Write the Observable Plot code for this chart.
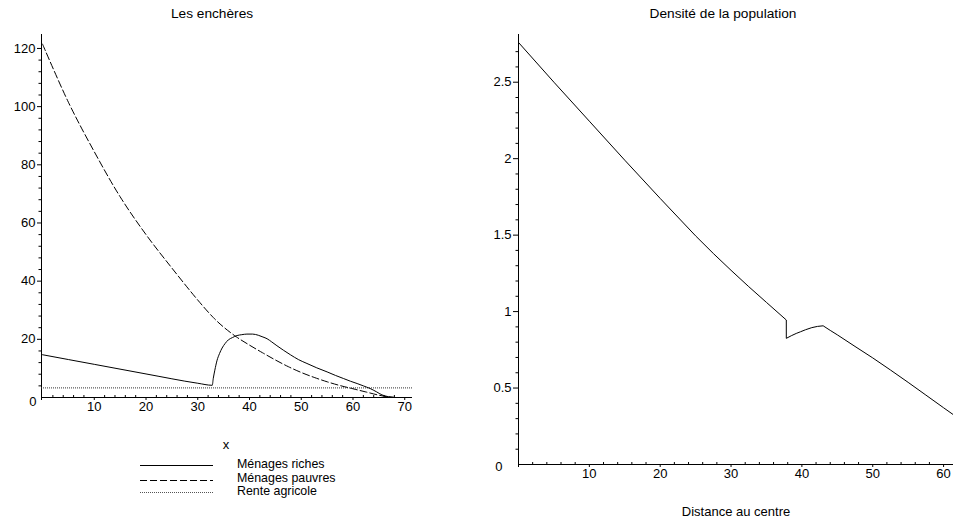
<!DOCTYPE html>
<html>
<head>
<meta charset="utf-8">
<script src="https://cdn.jsdelivr.net/npm/d3@7"></script>
<script src="https://cdn.jsdelivr.net/npm/@observablehq/plot@0.6"></script>
<style>
  html, body { margin: 0; padding: 0; background: #fff; }
  #wrap { position: relative; width: 953px; height: 523px; overflow: hidden; background: #fff;
          font-family: "Liberation Sans", Arial, sans-serif; color: #000; }
  .t { position: absolute; font-size: 13px; line-height: 15px; white-space: nowrap; }
  .ttl { font-size: 13.7px; }
  .c { transform: translateX(-50%); }
  #p1, #p2 { position: absolute; top: 0; }
  #p1 { left: 0; }
  #p2 { left: 470px; }
  #legend { position: absolute; left: 140px; top: 458px; }
  #legend .row { position: relative; height: 13.6px; width: 220px; }
  #legend svg { position: absolute; left: 0; top: 0; }
  #legend span { position: absolute; left: 97px; top: 0px; font-size: 12.4px; line-height: 13px; white-space: nowrap; }
</style>
</head>
<body>
<div id="wrap">
  <div class="t c ttl" style="left:212px;top:6px;">Les enchères</div>
  <div class="t c ttl" style="left:723px;top:6px;">Densité de la population</div>
  <div id="p1"></div>
  <div id="p2"></div>
  <div class="t c" style="left:226px;top:437px;">x</div>
  <div id="legend"></div>
  <div class="t c" style="left:736px;top:504px;">Distance au centre</div>
</div>
<script>
// ---- Left chart: "Les enchères" ----
const richX = [0, 10, 20, 30, 32.8, 33.0, 33.3, 33.7, 34.2, 34.7, 35.3, 35.9, 36.7, 37.6, 38.5, 39.5, 40.6, 41.7, 42.6, 43.4, 44.3, 45.3, 46.6, 47.9, 49.5, 51.1, 53.0, 55.0, 56.6, 58.2, 59.5, 60.8, 62.0, 63.3, 64.5, 65.6, 66.8, 67.9];
const richY = [14.7, 11.4, 8.1, 4.9, 4.2, 6.6, 9.4, 12.6, 15.1, 17.0, 18.6, 19.8, 20.6, 21.3, 21.6, 21.8, 21.8, 21.4, 20.8, 20.2, 19.1, 17.8, 16.2, 14.7, 13.0, 11.7, 10.2, 8.8, 7.6, 6.5, 5.6, 4.8, 4.0, 3.1, 2.0, 0.9, 0.3, 0.05];
const poorX = [0, 5, 10, 15, 20, 25, 30, 33, 35, 37.5, 40, 42.5, 45, 47.5, 50, 52.5, 55, 57.5, 60, 62.5, 65, 66.5, 67.9];
const poorY = [121.5, 101.5, 84.5, 69, 56, 44.5, 33.5, 27.5, 24.2, 20.8, 18.0, 15.4, 12.9, 10.6, 8.6, 6.9, 5.4, 4.1, 3.0, 1.9, 0.8, 0.3, 0.05];
const rente = 3.3;
const leftXTicks = [10, 20, 30, 40, 50, 60, 70];
const leftXMinor = d3.range(2, 72, 2).filter(d => d % 10 !== 0);
const leftYTicks = [20, 40, 60, 80, 100, 120];
const leftYMinor = d3.range(4, 124, 4).filter(d => d % 20 !== 0);

// ---- Right chart: "Densité de la population" ----
const densX = [0, 5, 10, 15, 20, 25, 27.5, 30, 32.5, 35, 37.8, 37.8, 38.5, 39.2, 39.8, 40.5, 41.4, 42.2, 43.0, 44, 45, 47.5, 50, 52.5, 55, 57.5, 60, 61.4];
const densY = [2.76, 2.50, 2.245, 1.99, 1.74, 1.495, 1.38, 1.27, 1.163, 1.06, 0.945, 0.825, 0.842, 0.857, 0.868, 0.881, 0.895, 0.903, 0.907, 0.877, 0.848, 0.772, 0.697, 0.618, 0.537, 0.454, 0.371, 0.325];
const rightXTicks = [10, 20, 30, 40, 50, 60];
const rightXMinor = d3.range(2, 62, 2).filter(d => d % 10 !== 0);
const rightYTicks = [0.5, 1, 1.5, 2, 2.5];
const rightYMinor = d3.range(1, 28).map(d => d / 10).filter(d => Math.round(d * 10) % 5 !== 0);

// ---- Legend ----
const legendLabels = ["Ménages riches", "Ménages pauvres", "Rente agricole"];
const legendDash = [null, "7,3", "1,1"];

const font = '"Liberation Sans", Arial, sans-serif';
const toRows = (xs, ys) => xs.map((x, i) => ({x, y: ys[i]}));
const fmt = d => String(d);

const left = Plot.plot({
  width: 425, height: 425,
  marginLeft: 41, marginRight: 13, marginTop: 34, marginBottom: 28,
  x: {domain: [-0.2, 71.5]},
  y: {domain: [0, 124.8]},
  style: {fontFamily: font, fontSize: "13px", color: "#000", background: "transparent", overflow: "visible"},
  marks: [
    Plot.axisY({ticks: leftYTicks, tickSize: 4, tickPadding: 2, tickFormat: fmt, label: null}),
    Plot.axisY({ticks: [0], tickSize: 0, tickPadding: 5, dy: 4, tickFormat: fmt, label: null}),
    Plot.axisY({ticks: leftYMinor, tickSize: 2.5, tickFormat: () => "", label: null}),
    Plot.axisX({ticks: leftXTicks, tickSize: 3, tickPadding: 1, tickFormat: fmt, label: null}),
    Plot.axisX({ticks: leftXMinor, tickSize: -2, tickFormat: () => "", label: null}),
    Plot.ruleX([-0.2], {stroke: "#000", insetBottom: -3}),
    Plot.ruleY([0], {stroke: "#000"}),
    Plot.ruleY([rente], {stroke: "#333", strokeDasharray: "1,1", strokeWidth: 1}),
    Plot.line(toRows(poorX, poorY), {x: "x", y: "y", stroke: "#000", strokeWidth: 1, strokeDasharray: "7,3", curve: "catmull-rom"}),
    Plot.line(toRows(richX, richY), {x: "x", y: "y", stroke: "#000", strokeWidth: 1, curve: "monotone-x"})
  ]
});
document.getElementById("p1").appendChild(left);

const right = Plot.plot({
  width: 483, height: 490,
  marginLeft: 48, marginRight: 0, marginTop: 34, marginBottom: 26,
  x: {domain: [0, 61.4]},
  y: {domain: [0, 2.812]},
  style: {fontFamily: font, fontSize: "13px", color: "#000", background: "transparent", overflow: "visible"},
  marks: [
    Plot.axisY({ticks: rightYTicks, tickSize: 5, tickPadding: 2, tickFormat: fmt, label: null}),
    Plot.axisY({ticks: [0], tickSize: 0, tickPadding: 16, dy: 2, tickFormat: fmt, label: null}),
    Plot.axisY({ticks: rightYMinor, tickSize: 2.5, tickFormat: () => "", label: null}),
    Plot.axisX({ticks: rightXTicks, tickSize: 3, tickPadding: 1, tickFormat: fmt, label: null}),
    Plot.axisX({ticks: rightXMinor, tickSize: -2, tickFormat: () => "", label: null}),
    Plot.ruleX([0], {stroke: "#000", insetBottom: -3}),
    Plot.ruleY([0], {stroke: "#000"}),
    Plot.line(toRows(densX, densY), {x: "x", y: "y", stroke: "#000", strokeWidth: 1, curve: "linear"})
  ]
});
document.getElementById("p2").appendChild(right);

// legend rows
const leg = document.getElementById("legend");
legendLabels.forEach((lab, i) => {
  const row = document.createElement("div");
  row.className = "row";
  const ns = "http://www.w3.org/2000/svg";
  const s = document.createElementNS(ns, "svg");
  s.setAttribute("width", "74"); s.setAttribute("height", "13");
  const yy = i === 0 ? "7.5" : i === 1 ? "8.5" : "7.5";
  const l = document.createElementNS(ns, "line");
  l.setAttribute("x1", "0"); l.setAttribute("x2", "73");
  l.setAttribute("y1", yy); l.setAttribute("y2", yy);
  l.setAttribute("stroke", i === 2 ? "#555" : "#000");
  l.setAttribute("stroke-width", "1");
  if (legendDash[i]) l.setAttribute("stroke-dasharray", legendDash[i]);
  s.appendChild(l);
  row.appendChild(s);
  const sp = document.createElement("span");
  sp.textContent = lab;
  row.appendChild(sp);
  leg.appendChild(row);
});
</script>
</body>
</html>
